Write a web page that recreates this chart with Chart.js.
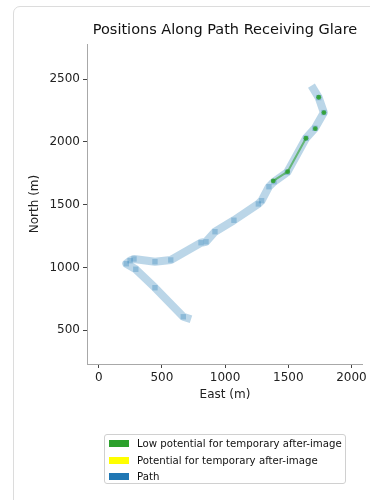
<!DOCTYPE html>
<html>
<head>
<meta charset="utf-8">
<script src="https://cdn.jsdelivr.net/npm/chart.js@4"></script>
<style>
  html, body { margin: 0; padding: 0; background: #fff; width: 370px; height: 500px; overflow: hidden; }
  body { font-family: "DejaVu Sans", sans-serif; position: relative; }
  .card { position: absolute; left: 13px; top: 6px; width: 400px; height: 540px; border: 1px solid #dcdcdc; border-radius: 7px; }
  #chart { position: absolute; left: 0; top: 0; }
  .title { position: absolute; left: 87px; width: 276px; top: 21px; text-align: center; font-size: 14.5px; color: #111; white-space: nowrap; }
  .legend { position: absolute; left: 104px; top: 434px; width: 240px; height: 48px; border: 1px solid #d0d0d0; border-radius: 3px; font-size: 10.2px; color: #111; }
  .legend .row { position: absolute; left: 4px; height: 14px; line-height: 14px; white-space: nowrap; }
  .legend .sw { position: absolute; left: 0; top: 3px; width: 20px; height: 7px; }
  .legend .lb { position: absolute; left: 28px; top: 0; }
</style>
</head>
<body>
<div class="card"></div>
<canvas id="chart" width="370" height="500"></canvas>
<div class="title">Positions Along Path Receiving Glare</div>
<div class="legend" id="legend"></div>
<script>
  // path vertices (east, north), from top end to bottom end
  const pathEast  = [1700, 1741, 1782, 1711, 1640, 1492, 1387, 1347, 1289, 1263, 1070, 920, 849, 809, 570, 445, 279, 248, 218, 293, 445, 669, 700];
  const pathNorth = [2420, 2352, 2233, 2108, 2029, 1758, 1683, 1643, 1532, 1506, 1376, 1285, 1205, 1197, 1060, 1046, 1068, 1054, 1030, 986, 839, 608, 598];

  // positions with low potential for temporary after-image (null = break in the run)
  const lowEast  = [1381, 1495, 1640, null, 1714, null, 1782, null, 1741];
  const lowNorth = [1689, 1763, 2029, null, 2105, null, 2233, null, 2355];

  // no positions with potential for after-image
  const potEast  = [];
  const potNorth = [];

  const xTicks = [0, 500, 1000, 1500, 2000];
  const yTicks = [500, 1000, 1500, 2000, 2500];

  const legendLabels = ['Low potential for temporary after-image', 'Potential for temporary after-image', 'Path'];
  const legendColors = ['#2ca02c', '#ffff00', '#1f77b4'];

  const toPoints = (xs, ys) => xs.map((x, i) => ({ x, y: ys[i] }));

  const blueA = 'rgba(31,119,180,0.3)';
  const greenLine = 'rgba(44,160,44,0.6)';
  const greenPt = 'rgba(44,160,44,0.85)';
  const tickFont = { family: 'DejaVu Sans', size: 12 };
  const titleFont = { family: 'DejaVu Sans', size: 12 };

  new Chart(document.getElementById('chart'), {
    type: 'scatter',
    data: {
      datasets: [
        {
          label: legendLabels[0],
          data: toPoints(lowEast, lowNorth),
          showLine: true,
          spanGaps: false,
          borderColor: greenLine,
          backgroundColor: greenPt,
          borderWidth: 2,
          pointRadius: 2.4,
          pointBorderWidth: 0,
          borderJoinStyle: 'round',
          borderCapStyle: 'round',
        },
        {
          label: legendLabels[1],
          data: toPoints(potEast, potNorth),
          showLine: true,
          borderColor: legendColors[1],
          backgroundColor: legendColors[1],
        },
        {
          label: legendLabels[2],
          data: toPoints(pathEast, pathNorth),
          showLine: true,
          borderColor: blueA,
          backgroundColor: blueA,
          borderWidth: 8,
          borderJoinStyle: 'round',
          borderCapStyle: 'square',
          pointStyle: 'rect',
          pointRadius: (ctx) => (ctx.dataIndex === 0 || ctx.dataIndex === pathEast.length - 1) ? 0 : 3.8,
          pointBorderWidth: 0,
        },
      ],
    },
    options: {
      responsive: false,
      animation: false,
      events: [],
      layout: { padding: { left: 0, right: 7, top: 44, bottom: 0 } },
      plugins: {
        legend: { display: false },
        tooltip: { enabled: false },
      },
      scales: {
        x: {
          type: 'linear',
          min: -93,
          max: 2091,
          afterBuildTicks: (s) => { s.ticks = xTicks.map(v => ({ value: v })); },
          afterFit: (s) => { s.height = 136; },
          grid: { drawOnChartArea: false, drawTicks: true, tickLength: 4, color: '#444', tickWidth: 1 },
          border: { color: '#a8a8a8', width: 1 },
          ticks: { color: '#222', font: tickFont, padding: 3, maxRotation: 0, callback: (v) => String(v) },
          title: { display: true, text: 'East (m)', color: '#222', font: titleFont, padding: { top: 0, bottom: 98 } },
        },
        y: {
          type: 'linear',
          min: 232,
          max: 2779,
          afterBuildTicks: (s) => { s.ticks = yTicks.map(v => ({ value: v })); },
          afterFit: (s) => { s.width = 87; },
          grid: { drawOnChartArea: false, drawTicks: true, tickLength: 4, color: '#444', tickWidth: 1 },
          border: { color: '#a8a8a8', width: 1 },
          ticks: { color: '#222', font: tickFont, padding: 3, callback: (v) => String(v) },
          title: { display: true, text: 'North (m)', color: '#222', font: titleFont, padding: { top: 28, bottom: 0 } },
        },
      },
    },
  });

  // legend as plain html boxes
  const legend = document.getElementById('legend');
  const rowTops = [2, 18.5, 35];
  legendLabels.forEach((label, i) => {
    const row = document.createElement('div');
    row.className = 'row';
    row.style.top = rowTops[i] + 'px';
    row.innerHTML = '<span class="sw" style="background:' + legendColors[i] + '"></span><span class="lb">' + label + '</span>';
    legend.appendChild(row);
  });
</script>
</body>
</html>
